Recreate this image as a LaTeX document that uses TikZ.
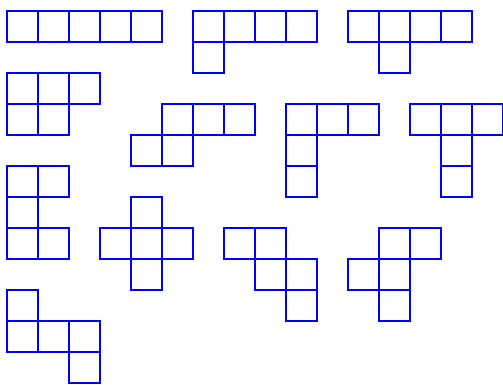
\documentclass[tikz,border=0pt]{standalone}
\begin{document}
\begin{tikzpicture}[x=1pt,y=-1pt,
  cellbox/.style={draw=blue,line width=2pt}]
\useasboundingbox (0,0) rectangle (503,385);
\newcommand{\cellat}[2]{\draw[cellbox] ({7.3+30.95*#1},{10.6+31*#2}) rectangle ++(30.95,31);}
% shape 1
\foreach \c in {0,...,4} {\cellat{\c}{0}}
% shape 2
\foreach \c in {6,...,9} {\cellat{\c}{0}}
\cellat{6}{1}
% shape 3
\foreach \c in {11,...,14} {\cellat{\c}{0}}
\cellat{12}{1}
% shape 4
\foreach \c in {0,1,2} {\cellat{\c}{2}}
\foreach \c in {0,1} {\cellat{\c}{3}}
% shape 5
\foreach \c in {5,6,7} {\cellat{\c}{3}}
\foreach \c in {4,5} {\cellat{\c}{4}}
% shape 6
\foreach \c in {9,10,11} {\cellat{\c}{3}}
\cellat{9}{4}
\cellat{9}{5}
% shape 7
\foreach \c in {13,14,15} {\cellat{\c}{3}}
\cellat{14}{4}
\cellat{14}{5}
% shape 8
\foreach \c in {0,1} {\cellat{\c}{5}}
\cellat{0}{6}
\foreach \c in {0,1} {\cellat{\c}{7}}
% shape 9
\cellat{4}{6}
\foreach \c in {3,4,5} {\cellat{\c}{7}}
\cellat{4}{8}
% shape 10
\foreach \c in {7,8} {\cellat{\c}{7}}
\foreach \c in {8,9} {\cellat{\c}{8}}
\cellat{9}{9}
% shape 11
\foreach \c in {12,13} {\cellat{\c}{7}}
\foreach \c in {11,12} {\cellat{\c}{8}}
\cellat{12}{9}
% shape 12
\cellat{0}{9}
\foreach \c in {0,1,2} {\cellat{\c}{10}}
\cellat{2}{11}
\end{tikzpicture}
\end{document}
